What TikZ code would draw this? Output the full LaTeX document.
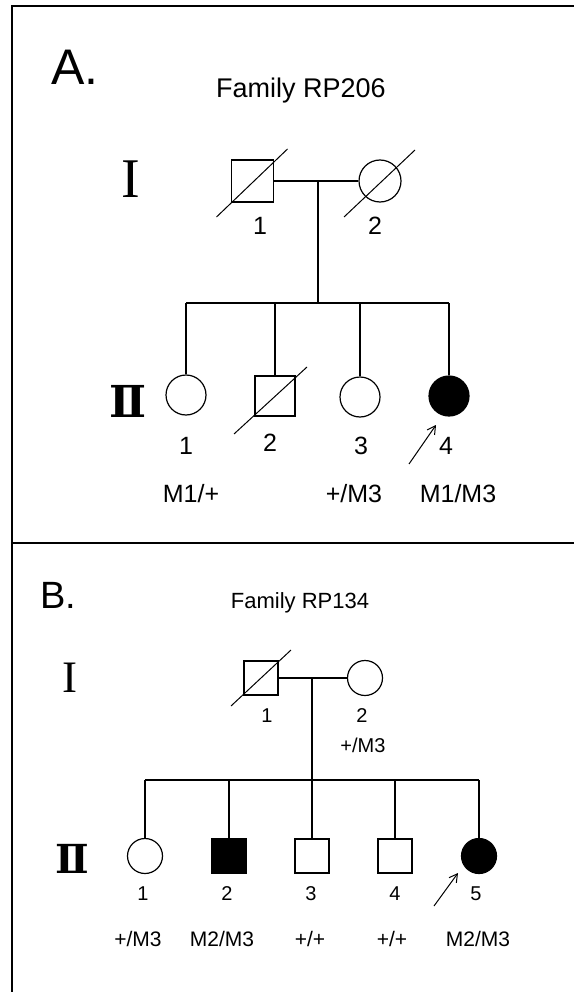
\documentclass[tikz,border=0pt]{standalone}
\usepackage{fontspec}
\setmainfont{Liberation Sans}
\newfontfamily\romfont{Liberation Serif}
\newfontfamily\numfont{DejaVu Serif}
\usetikzlibrary{arrows.meta}

\tikzset{
  male/.style={draw, rectangle, minimum size=42pt, inner sep=0pt, line width=1.2pt},
  female/.style={draw, circle, minimum size=42pt, inner sep=0pt, line width=1.2pt},
  affected/.style={fill=black},
  link/.style={line width=1.2pt},
  dead/.style={line width=1pt},
  txt/.style={inner sep=0pt, anchor=base},
  proband/.style={line width=1pt, -{Straight Barb[length=8pt, width=9pt]}},
}

\begin{document}
\begin{tikzpicture}[x=1pt, y=-1pt]
\useasboundingbox (0,0) rectangle (574,992);

% frame
\draw[line width=2pt] (12,992) -- (12,6) -- (574,6);
\draw[line width=2pt] (12,543) -- (574,543);

%%% A
\node[txt, font=\fontsize{50}{50}\selectfont] (tA) at (75,85) {A.};
\node[txt, font=\fontsize{27}{30}\selectfont] (famA) at (301,98) {Family RP206};
\node[txt, font=\fontsize{56}{56}\selectfont\romfont] (genIA) at (131,198) {I};
\node[txt, font=\fontsize{44}{44}\selectfont\numfont\bfseries] (genIIA) at (128,417) {Ⅱ};

\node[male] (a1) at (252.5,181) {};
\node[female] (a2) at (380,181) {};
\draw[dead] ([shift={(-36,36)}]a1.center) -- ([shift={(35,-32)}]a1.center);
\draw[dead] ([shift={(-36,36)}]a2.center) -- ([shift={(35,-31)}]a2.center);
\draw[link] (a1) -- (a2);

\coordinate (mA) at (318,181);
\coordinate (sA) at (318,303);
\draw[link] (mA) -- (sA);

\node[female, minimum size=40pt] (b1) at (186,395) {};
\node[male, minimum size=40pt] (b2) at (275,396) {};
\node[female, minimum size=40pt] (b3) at (360,397) {};
\node[female, affected, minimum size=40pt] (b4) at (449,396) {};
\draw[dead] ([shift={(-41,38)}]b2.center) -- ([shift={(32,-29)}]b2.center);

\draw[link] (b1 |- sA) -- (b4 |- sA);
\foreach \k in {b1,b2,b3,b4}
  \draw[link] (\k |- sA) -- (\k);

\coordinate (pA) at (409,464);
\draw[proband] (pA) -- ([shift={(-13,29)}]b4.center);

\begin{scope}[every node/.append style={font=\fontsize{25}{30}\selectfont}]
\node[txt] (la1) at (260,234) {1};
\node[txt] (la2) at (375,234) {2};
\node[txt] (lb1) at (186,454) {1};
\node[txt] (lb2) at (270,451) {2};
\node[txt] (lb3) at (361,454) {3};
\node[txt] (lb4) at (446,454) {4};
\node[txt] (gb1) at (191,502) {M1/+};
\node[txt] (gb3) at (354,502) {+/M3};
\node[txt] (gb4) at (458,502) {M1/M3};
\end{scope}

%%% B
\node[txt, font=\fontsize{38}{40}\selectfont] (tB) at (58,608) {B.};
\node[txt, font=\fontsize{22}{26}\selectfont] (famB) at (300,608) {Family RP134};
\node[txt, font=\fontsize{45}{45}\selectfont\romfont] (genIB) at (70,692) {I};
\node[txt, font=\fontsize{40}{40}\selectfont\numfont\bfseries] (genIIB) at (72,873) {Ⅱ};

\node[male, minimum size=34pt] (c1) at (261,678) {};
\node[female, minimum size=35pt] (c2) at (365,678) {};
\draw[dead] ([shift={(-30,28)}]c1.center) -- ([shift={(30,-28)}]c1.center);
\draw[link] (c1) -- (c2);

\coordinate (mB) at (312,678);
\coordinate (sB) at (312,780);

\node[female, minimum size=35pt] (d1) at (145,856) {};
\node[male, affected, minimum size=34pt] (d2) at (229,856) {};
\node[male, minimum size=34pt] (d3) at (312,856) {};
\node[male, minimum size=34pt] (d4) at (395,856) {};
\node[female, affected, minimum size=35pt] (d5) at (479,856) {};

\draw[link] (mB) -- (d3);
\draw[link] (d1 |- sB) -- (d5 |- sB);
\foreach \k in {d1,d2,d4,d5}
  \draw[link] (\k |- sB) -- (\k);

\coordinate (pB) at (434,906);
\draw[proband] (pB) -- ([shift={(-21,17)}]d5.center);

\begin{scope}[every node/.append style={font=\fontsize{20}{24}\selectfont}]
\node[txt] (lc1) at (267,722) {1};
\node[txt] (lc2) at (362,722) {2};
\node[txt] (gc2) at (363,752) {+/M3};
\node[txt] (ld1) at (143,900) {1};
\node[txt] (ld2) at (227,900) {2};
\node[txt] (ld3) at (311,900) {3};
\node[txt] (ld4) at (395,900) {4};
\node[txt] (ld5) at (476,900) {5};
\end{scope}
\begin{scope}[every node/.append style={font=\fontsize{21}{24}\selectfont}]
\node[txt] (gd1) at (138,946) {+/M3};
\node[txt] (gd2) at (222,946) {M2/M3};
\node[txt] (gd3) at (310,946) {+/+};
\node[txt] (gd4) at (392,946) {+/+};
\node[txt] (gd5) at (478,946) {M2/M3};
\end{scope}
\end{tikzpicture}
\end{document}
